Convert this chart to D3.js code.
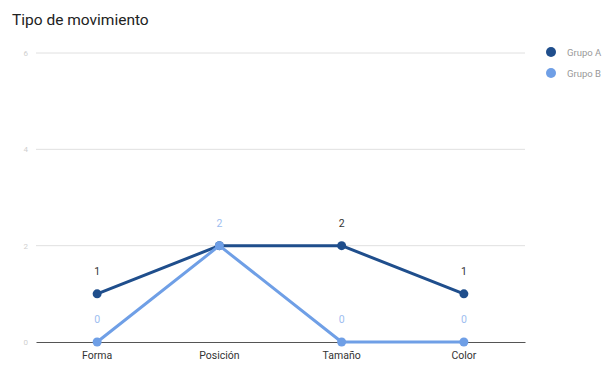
<!DOCTYPE html>
<html><head><meta charset="utf-8">
<script src="https://cdn.jsdelivr.net/npm/d3@7"></script>
<style>body{margin:0;background:#fff;}svg{display:block;font-family:Roboto, Arial, sans-serif;}</style>
</head><body><svg id="c" width="612" height="365"></svg>
<script>
const categories = ["Forma", "Posición", "Tamaño", "Color"];
const seriesNames = ["Grupo A", "Grupo B"];
const grupoA = [1, 2, 2, 1];
const grupoB = [0, 2, 0, 0];
const yTicks = [0, 2, 4, 6];
const colors = ["#1f4e8c", "#6f9fe6"];

(function () {
const svg = d3.select("#c");
const mLeft = 36, mRight = 525, mTop = 53, mBottom = 342;
const x = d3.scaleBand().domain(categories).range([mLeft, mRight]);
const y = d3.scaleLinear().domain([0, 6]).range([mBottom, mTop]);
const cx = c => x(c) + x.bandwidth() / 2;

svg.append("text").attr("x", 12).attr("y", 25).attr("font-size", 15.5).attr("fill", "#222").text("Tipo de movimiento");

// gridlines
svg.selectAll(".grid").data(yTicks.filter(d => d !== 0)).enter().append("line")
  .attr("x1", mLeft).attr("x2", mRight).attr("y1", d => y(d)).attr("y2", d => y(d))
  .attr("stroke", "#e0e0e0").attr("stroke-width", 1);
svg.selectAll(".yl").data(yTicks).enter().append("text")
  .attr("x", 28).attr("y", d => y(d) + 3).attr("text-anchor", "end")
  .attr("font-size", 8).attr("fill", "#cfcfcf").text(d => d);

// x axis
const xAxis = d3.axisBottom(x).tickSize(0).tickPadding(10);
const gx = svg.append("g").attr("transform", `translate(0,${mBottom})`).call(xAxis);
gx.select(".domain").attr("stroke", "#555").attr("stroke-width", 1);
gx.selectAll("text").attr("font-size", 10.5).attr("fill", "#333").attr("font-family", "Roboto, Arial, sans-serif");

const series = [grupoA, grupoB];
const line = d3.line().x((d, i) => cx(categories[i])).y(d => y(d));
series.forEach((vals, s) => {
  svg.append("path").datum(vals).attr("d", line).attr("fill", "none")
    .attr("stroke", colors[s]).attr("stroke-width", 3).attr("stroke-linejoin", "round");
  svg.selectAll(".pt" + s).data(vals).enter().append("circle")
    .attr("cx", (d, i) => cx(categories[i])).attr("cy", d => y(d))
    .attr("r", 4.5).attr("fill", colors[s]);
});
// labels (series A label hidden where it collides with series B label)
series.forEach((vals, s) => {
  const pts = vals.map((v, i) => ({ v, c: categories[i], i }))
    .filter(p => !(s === 0 && grupoB[p.i] === p.v));
  svg.selectAll(".lb" + s).data(pts).enter().append("text")
    .attr("x", p => cx(p.c)).attr("y", p => y(p.v) - 19)
    .attr("text-anchor", "middle").attr("font-size", 10.5)
    .attr("fill", s === 0 ? "#333" : "#9dbdf0").text(p => p.v);
});

// legend
seriesNames.forEach((n, i) => {
  const g = svg.append("g").attr("transform", `translate(551,${52 + i * 21})`);
  g.append("circle").attr("r", 5).attr("fill", colors[i]);
  g.append("text").attr("x", 16).attr("y", 3.5).attr("font-size", 9.5).attr("fill", "#999").text(n);
});
})();
</script></body></html>
